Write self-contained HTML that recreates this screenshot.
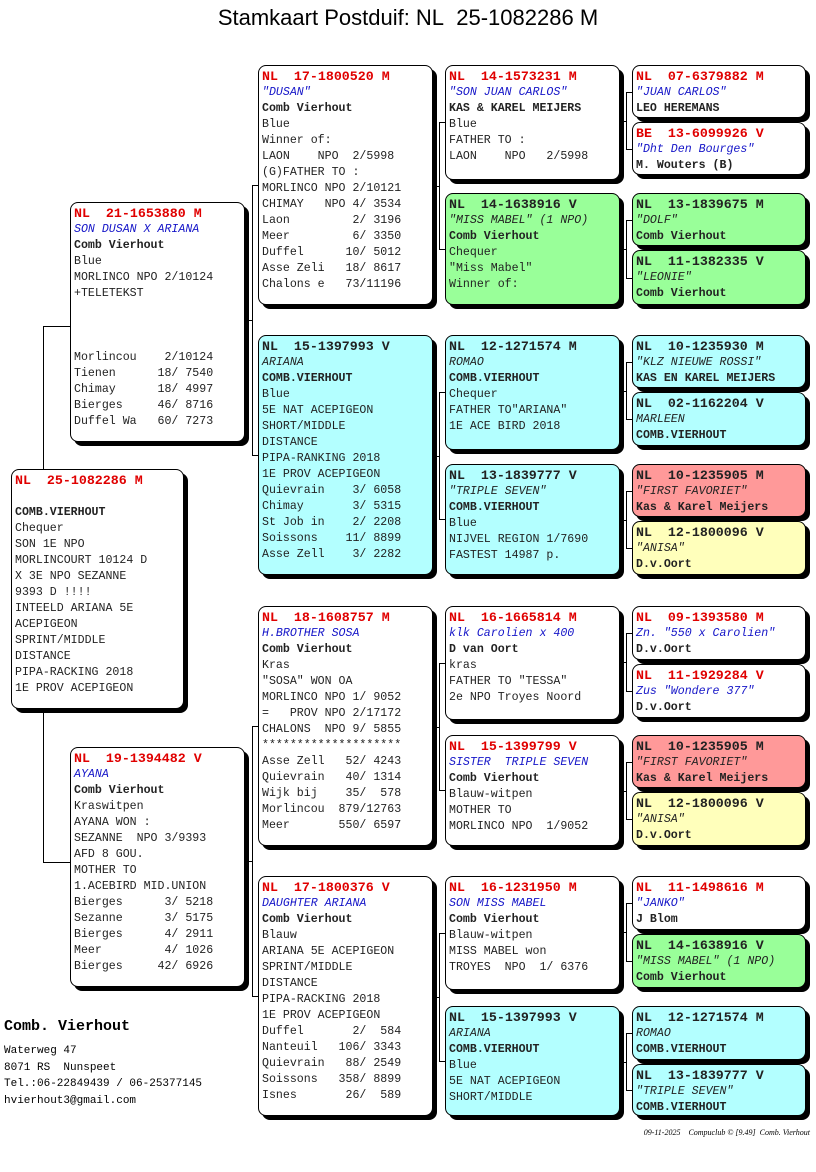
<!DOCTYPE html>
<html><head><meta charset="utf-8">
<style>
body{margin:0;width:816px;height:1172px;background:#fff;position:relative;overflow:hidden;font-family:"Liberation Mono",monospace;}
.t{position:absolute;left:0;width:816px;top:5px;text-align:center;font-family:"Liberation Sans",sans-serif;font-size:22px;}
.b{position:absolute;border:1px solid #000;border-radius:8px;box-shadow:4px 4px 0 #000;box-sizing:border-box;padding:3px 0 0 3px;font-size:11.6px;line-height:16px;white-space:pre;overflow:hidden;color:#222;}
.b .h{font-weight:bold;font-size:13.3px;}
.r{color:#e00000}
.bl{color:#1515c8}
.i{font-style:italic}
.bo{font-weight:bold}
.l{position:absolute;background:#000;}
</style></head><body>
<div class="t">Stamkaart Postduif: NL&nbsp; 25-1082286 M</div>
<div id="c"></div>
<div style="position:absolute;left:4px;top:1018px;font-size:15px;font-weight:bold;">Comb. Vierhout</div>
<div style="position:absolute;left:4px;top:1043px;font-size:11px;line-height:16.5px;white-space:pre;">Waterweg 47
8071 RS  Nunspeet
Tel.:06-22849439 / 06-25377145
hvierhout3@gmail.com</div>
<div style="position:absolute;right:6px;top:1128px;font-size:8px;font-style:italic;white-space:pre;font-family:'Liberation Serif',serif;">09-11-2025    Compuclub © [9.49]  Comb. Vierhout</div>
<script>
var W='#fff',G='#99ff99',C='#b3ffff',P='#ff9999',Y='#ffffbb';
function box(x,y,w,h,bg,hc,nc,lines){
 var s='<div class="b" style="left:'+x+'px;top:'+y+'px;width:'+w+'px;height:'+h+'px;background:'+bg+'">';
 lines.forEach(function(t,k){
  var cls='';
  if(k==0)cls='h '+(hc?'r':'');
  else if(k==1)cls='i '+(nc?'bl':'');
  else if(k==2)cls='bo';
  s+='<div class="'+cls+'">'+(t.replace(/&/g,'&amp;')||' ')+'</div>';
 });
 return s+'</div>';
}
var H='';
function L(x,y,w,h){H+='<div class="l" style="left:'+x+'px;top:'+y+'px;width:'+w+'px;height:'+h+'px"></div>';}
L(43,326,1,537);L(43,326,27,1);L(43,862,27,1);
function con(pr,x,c1,c2,cl){var m=Math.round((c1+c2)/2);L(x,c1,1,c2-c1);L(pr,m,x-pr,1);L(x,c1,cl-x,1);L(x,c2,cl-x,1);}
con(244,252,185,455,258);con(244,252,726,996,258);
con(432,439,122,249,445);con(432,439,392,519,445);con(432,439,663,790,445);con(432,439,933,1061,445);
var g5=[[65,118],[122,175],[193,246],[250,305],[335,388],[392,446],[464,517],[521,575],[606,660],[664,718],[735,788],[792,846],[876,930],[934,988],[1006,1060],[1064,1116]];
for(var k=0;k<16;k+=2){con(619,626,Math.round((g5[k][0]+g5[k][1])/2),Math.round((g5[k+1][0]+g5[k+1][1])/2),632);}
H+=box(11,469,173,240,W,1,1,['NL  25-1082286 M','','COMB.VIERHOUT','Chequer','SON 1E NPO','MORLINCOURT 10124 D','X 3E NPO SEZANNE','9393 D !!!!','INTEELD ARIANA 5E','ACEPIGEON','SPRINT/MIDDLE','DISTANCE','PIPA-RACKING 2018','1E PROV ACEPIGEON']);
H+=box(70,202,175,240,W,1,1,['NL  21-1653880 M','SON DUSAN X ARIANA','Comb Vierhout','Blue','MORLINCO NPO 2/10124','+TELETEKST','','','','Morlincou    2/10124','Tienen      18/ 7540','Chimay      18/ 4997','Bierges     46/ 8716','Duffel Wa   60/ 7273']);
H+=box(70,747,175,240,W,1,1,['NL  19-1394482 V','AYANA','Comb Vierhout','Kraswitpen','AYANA WON :','SEZANNE  NPO 3/9393','AFD 8 GOU.','MOTHER TO','1.ACEBIRD MID.UNION','Bierges      3/ 5218','Sezanne      3/ 5175','Bierges      4/ 2911','Meer         4/ 1026','Bierges     42/ 6926']);
H+=box(258,65,175,240,W,1,1,['NL  17-1800520 M','"DUSAN"','Comb Vierhout','Blue','Winner of:','LAON    NPO  2/5998','(G)FATHER TO :','MORLINCO NPO 2/10121','CHIMAY   NPO 4/ 3534','Laon         2/ 3196','Meer         6/ 3350','Duffel      10/ 5012','Asse Zeli   18/ 8617','Chalons e   73/11196']);
H+=box(258,335,175,240,C,0,0,['NL  15-1397993 V','ARIANA','COMB.VIERHOUT','Blue','5E NAT ACEPIGEON','SHORT/MIDDLE','DISTANCE','PIPA-RANKING 2018','1E PROV ACEPIGEON','Quievrain    3/ 6058','Chimay       3/ 5315','St Job in    2/ 2208','Soissons    11/ 8899','Asse Zell    3/ 2282']);
H+=box(258,606,175,240,W,1,1,['NL  18-1608757 M','H.BROTHER SOSA','Comb Vierhout','Kras','"SOSA" WON OA','MORLINCO NPO 1/ 9052','=   PROV NPO 2/17172','CHALONS  NPO 9/ 5855','********************','Asse Zell   52/ 4243','Quievrain   40/ 1314','Wijk bij    35/  578','Morlincou  879/12763','Meer       550/ 6597']);
H+=box(258,876,175,240,W,1,1,['NL  17-1800376 V','DAUGHTER ARIANA','Comb Vierhout','Blauw','ARIANA 5E ACEPIGEON','SPRINT/MIDDLE','DISTANCE','PIPA-RACKING 2018','1E PROV ACEPIGEON','Duffel       2/  584','Nanteuil   106/ 3343','Quievrain   88/ 2549','Soissons   358/ 8899','Isnes       26/  589']);
var g4=[[65,180,W,1,1,['NL  14-1573231 M','"SON JUAN CARLOS"','KAS & KAREL MEIJERS','Blue','FATHER TO :','LAON    NPO   2/5998']],
[193,305,G,0,0,['NL  14-1638916 V','"MISS MABEL" (1 NPO)','Comb Vierhout','Chequer','"Miss Mabel"','Winner of:']],
[335,450,C,0,0,['NL  12-1271574 M','ROMAO','COMB.VIERHOUT','Chequer','FATHER TO"ARIANA"','1E ACE BIRD 2018']],
[464,575,C,0,0,['NL  13-1839777 V','"TRIPLE SEVEN"','COMB.VIERHOUT','Blue','NIJVEL REGION 1/7690','FASTEST 14987 p.']],
[606,720,W,1,1,['NL  16-1665814 M','klk Carolien x 400','D van Oort','kras','FATHER TO "TESSA"','2e NPO Troyes Noord']],
[735,846,W,1,1,['NL  15-1399799 V','SISTER  TRIPLE SEVEN','Comb Vierhout','Blauw-witpen','MOTHER TO','MORLINCO NPO  1/9052']],
[876,990,W,1,1,['NL  16-1231950 M','SON MISS MABEL','Comb Vierhout','Blauw-witpen','MISS MABEL won','TROYES  NPO  1/ 6376']],
[1006,1116,C,0,0,['NL  15-1397993 V','ARIANA','COMB.VIERHOUT','Blue','5E NAT ACEPIGEON','SHORT/MIDDLE']]];
g4.forEach(function(a){H+=box(445,a[0],175,a[1]-a[0],a[2],a[3],a[4],a[5]);});
var d5=[[W,1,1,['NL  07-6379882 M','"JUAN CARLOS"','LEO HEREMANS']],
[W,1,1,['BE  13-6099926 V','"Dht Den Bourges"','M. Wouters (B)']],
[G,0,0,['NL  13-1839675 M','"DOLF"','Comb Vierhout']],
[G,0,0,['NL  11-1382335 V','"LEONIE"','Comb Vierhout']],
[C,0,0,['NL  10-1235930 M','"KLZ NIEUWE ROSSI"','KAS EN KAREL MEIJERS']],
[C,0,0,['NL  02-1162204 V','MARLEEN','COMB.VIERHOUT']],
[P,0,0,['NL  10-1235905 M','"FIRST FAVORIET"','Kas & Karel Meijers']],
[Y,0,0,['NL  12-1800096 V','"ANISA"','D.v.Oort']],
[W,1,1,['NL  09-1393580 M','Zn. "550 x Carolien"','D.v.Oort']],
[W,1,1,['NL  11-1929284 V','Zus "Wondere 377"','D.v.Oort']],
[P,0,0,['NL  10-1235905 M','"FIRST FAVORIET"','Kas & Karel Meijers']],
[Y,0,0,['NL  12-1800096 V','"ANISA"','D.v.Oort']],
[W,1,1,['NL  11-1498616 M','"JANKO"','J Blom']],
[G,0,0,['NL  14-1638916 V','"MISS MABEL" (1 NPO)','Comb Vierhout']],
[C,0,0,['NL  12-1271574 M','ROMAO','COMB.VIERHOUT']],
[C,0,0,['NL  13-1839777 V','"TRIPLE SEVEN"','COMB.VIERHOUT']]];
d5.forEach(function(a,k){H+=box(632,g5[k][0],174,g5[k][1]-g5[k][0],a[0],a[1],a[2],a[3]);});
document.getElementById('c').innerHTML=H;
</script>
</body></html>
